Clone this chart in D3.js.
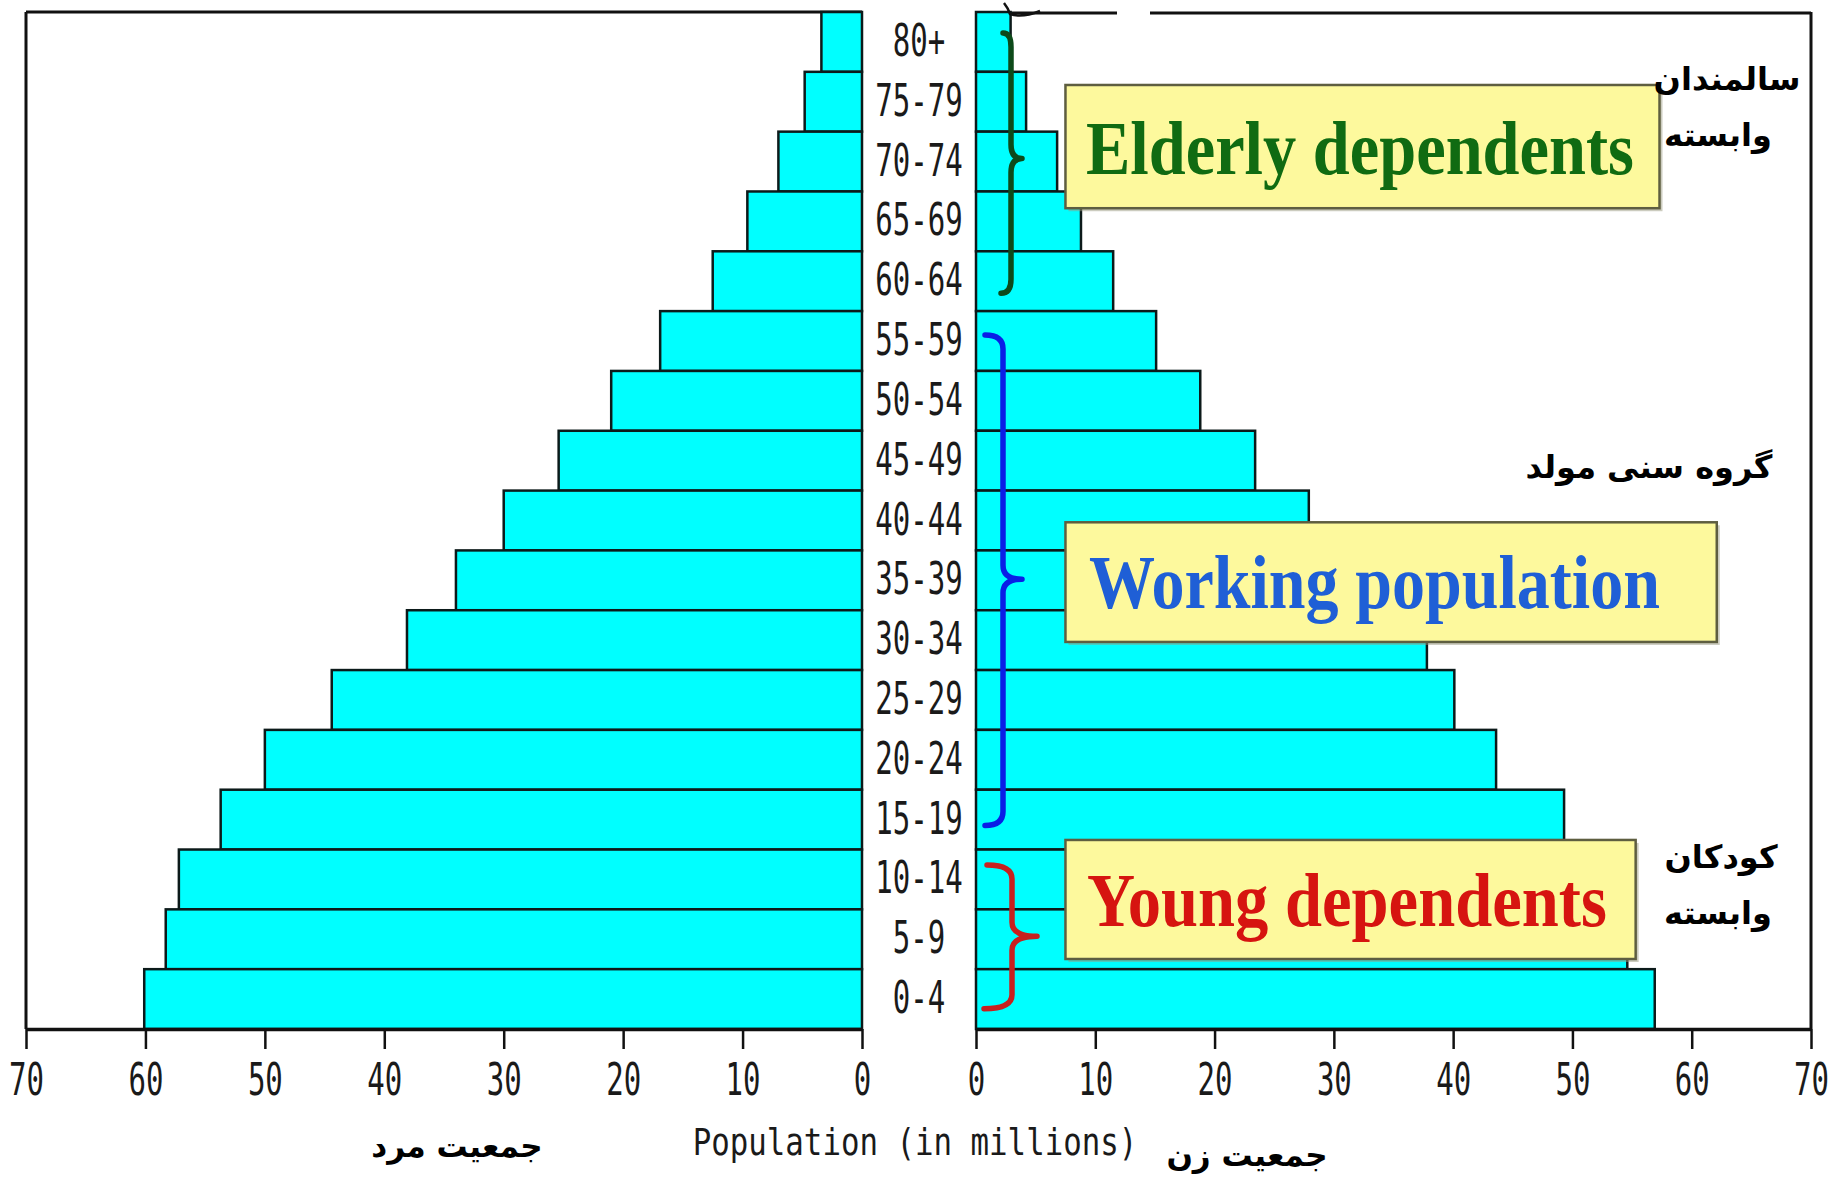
<!DOCTYPE html>
<html>
<head>
<meta charset="utf-8">
<script src="https://cdn.jsdelivr.net/npm/d3@7"></script>
<style>
html,body{margin:0;padding:0;background:#fff;}
svg{display:block;}
</style>
</head>
<body>
<script>
// ---- data ----
const ageGroups = ["80+","75-79","70-74","65-69","60-64","55-59","50-54","45-49","40-44","35-39","30-34","25-29","20-24","15-19","10-14","5-9","0-4"];
const maleValues   = [3.4,4.8,7.0,9.6,12.5,16.9,21.0,25.4,30.0,34.0,38.1,44.4,50.0,53.7,57.2,58.3,60.1];
const femaleValues = [2.9,4.2,6.8,8.8,11.5,15.1,18.8,23.4,27.9,33.0,37.8,40.1,43.6,49.3,52.0,54.6,56.9];
const tickValues = [0,10,20,30,40,50,60,70];
const axisTitle = "Population (in millions)";
const maleLabel = "جمعیت مرد";
const femaleLabel = "جمعیت زن";
const groupBoxes = ["Elderly dependents","Working population","Young dependents"];
const groupColors = ["#106b12","#1f5fd6","#d61410"];
const braceColors = ["#0d4a1a","#0a1ee6","#c8201e"];
const persianNotes = [["سالمندان","وابسته"],["گروه سنی مولد"],["کودکان","وابسته"]];

(function(){
const W = 1845, H = 1189;
const svg = d3.select("body").append("svg").attr("width", W).attr("height", H);

const yTop = 12, yBottom = 1029;
const xL = d3.scaleLinear().domain([0,70]).range([862,26]);
const xR = d3.scaleLinear().domain([0,70]).range([976,1811]);
const y = d3.scaleBand().domain(ageGroups).range([yTop,yBottom]).padding(0);
const bw = y.bandwidth();
const yk = k => yTop + k*bw;

// frame lines
const frame = svg.append("g").attr("stroke","#111").attr("stroke-width",3).attr("fill","none");
frame.append("line").attr("x1",xL(70)).attr("x2",xL(0)).attr("y1",yTop).attr("y2",yTop);
frame.append("line").attr("x1",xL(70)).attr("x2",xL(70)).attr("y1",yTop).attr("y2",yBottom);
frame.append("line").attr("x1",xR(0)).attr("x2",1117).attr("y1",yTop+1).attr("y2",yTop+1);
frame.append("line").attr("x1",1150).attr("x2",xR(70)).attr("y1",yTop+1).attr("y2",yTop+1);
frame.append("line").attr("x1",xR(70)).attr("x2",xR(70)).attr("y1",yTop).attr("y2",yBottom);

// bars
const rows = ageGroups.map((a,i)=>({age:a, m:maleValues[i], f:femaleValues[i]}));
svg.append("g").selectAll("rect").data(rows).join("rect")
  .attr("x", d=>xL(d.m)).attr("y", d=>y(d.age))
  .attr("width", d=>xL(0)-xL(d.m)).attr("height", bw)
  .attr("fill","#00ffff").attr("stroke","#0c1a1a").attr("stroke-width",2.5);
svg.append("g").selectAll("rect").data(rows).join("rect")
  .attr("x", xR(0)).attr("y", d=>y(d.age))
  .attr("width", d=>xR(d.f)-xR(0)).attr("height", bw)
  .attr("fill","#00ffff").attr("stroke","#0c1a1a").attr("stroke-width",2.5);

// age labels
const monoFont = "'DejaVu Sans Mono', monospace";
svg.append("g").selectAll("text").data(ageGroups).join("text")
  .attr("transform", d=>`translate(${(xL(0)+xR(0))/2},${y(d)+bw/2+14}) scale(0.66,1)`)
  .attr("text-anchor","middle").attr("font-family",monoFont).attr("font-size",44)
  .attr("fill","#1a1a1a").text(d=>d);

// axes
function styleAxis(g){
  g.select(".domain").attr("stroke","#111").attr("stroke-width",3.5);
  g.selectAll(".tick line").attr("stroke","#111").attr("stroke-width",2.5);
  g.selectAll(".tick text").attr("font-family",monoFont).attr("font-size",44)
   .attr("fill","#1a1a1a").attr("y",66).attr("dy",0).attr("transform","scale(0.66,1)");
}
svg.append("g").attr("transform",`translate(0,${yBottom})`)
  .call(d3.axisBottom(xL).tickValues(tickValues).tickSize(20).tickSizeOuter(0).tickFormat(d3.format("d")))
  .call(styleAxis);
svg.append("g").attr("transform",`translate(0,${yBottom})`)
  .call(d3.axisBottom(xR).tickValues(tickValues).tickSize(20).tickSizeOuter(0).tickFormat(d3.format("d")))
  .call(styleAxis);

// axis title
svg.append("text").attr("transform",`translate(915,1155) scale(0.81,1)`)
  .attr("text-anchor","middle").attr("font-family",monoFont).attr("font-size",38)
  .attr("fill","#1a1a1a").text(axisTitle);

const faFont = "'DejaVu Sans', sans-serif";
svg.append("text").attr("x",457).attr("y",1157).attr("text-anchor","middle")
  .attr("font-family",faFont).attr("font-weight","bold").attr("font-size",31)
  .attr("direction","rtl").attr("fill","#000").text(maleLabel);
svg.append("text").attr("x",1247).attr("y",1166).attr("text-anchor","middle")
  .attr("font-family",faFont).attr("font-weight","bold").attr("font-size",31)
  .attr("direction","rtl").attr("fill","#000").text(femaleLabel);

// braces
function bracePath(xe1, xs, xt, xe2, y1, ym, y2){
  const r = 14;
  return `M${xe1},${y1} Q${xs},${y1} ${xs},${y1+r} L${xs},${ym-r} Q${xs},${ym} ${xt},${ym}` +
         ` Q${xs},${ym} ${xs},${ym+r} L${xs},${y2-r} Q${xs},${y2} ${xe2},${y2}`;
}
const braces = [
  {k:[0.35,2.45,4.7], x:[1003,1011,1022,1001]},
  {k:[5.4,9.48,13.6], x:[985,1003,1022,985]},
  {k:[14.26,15.45,16.66], x:[987,1012,1037,984]}
];
braces.forEach((b,i)=>{
  svg.append("path").attr("d", bracePath(b.x[0],b.x[1],b.x[2],b.x[3], yk(b.k[0]), yk(b.k[1]), yk(b.k[2])))
    .attr("fill","none").attr("stroke",braceColors[i]).attr("stroke-width",5.5)
    .attr("stroke-linecap","round").attr("stroke-linejoin","round");
});
// small hand-drawn mark at top
svg.append("path").attr("d","M1004,3 Q1008,8 1010,14 Q1022,18 1040,11")
  .attr("fill","none").attr("stroke","#111").attr("stroke-width",2.5);

// annotation boxes
const boxes = [
  {k:[1.22,3.28], x:[7.5,57.3], tx:1086, base:174, len:548},
  {k:[8.53,10.53], x:[7.5,62.1], tx:1089, base:608, len:571},
  {k:[13.84,15.83], x:[7.5,55.3], tx:1087, base:926, len:520}
];
boxes.forEach((b,i)=>{
  const g = svg.append("g");
  g.append("rect").attr("x",xR(b.x[0])+3).attr("y",yk(b.k[0])+3)
    .attr("width",xR(b.x[1])-xR(b.x[0])).attr("height",yk(b.k[1])-yk(b.k[0]))
    .attr("fill","#9a9a80").attr("opacity",0.5);
  g.append("rect").attr("x",xR(b.x[0])).attr("y",yk(b.k[0]))
    .attr("width",xR(b.x[1])-xR(b.x[0])).attr("height",yk(b.k[1])-yk(b.k[0]))
    .attr("fill","#fdf99d").attr("stroke","#5e5e40").attr("stroke-width",2.5);
  const t = g.append("text").attr("x",0).attr("y",0)
    .attr("font-family","'Liberation Serif','Times New Roman',serif").attr("font-weight","bold")
    .attr("font-size",77).attr("fill",groupColors[i]).text(groupBoxes[i]);
  const natural = t.node().getComputedTextLength() || b.len;
  t.attr("transform",`translate(${b.tx},${b.base}) scale(${b.len/natural},1)`);
});

// persian side notes
const notePos = [
  [{x:1727,y:90},{x:1718,y:146}],
  [{x:1649,y:478}],
  [{x:1721,y:868},{x:1718,y:924}]
];
persianNotes.forEach((lines,i)=>{
  lines.forEach((s,j)=>{
    svg.append("text").attr("x",notePos[i][j].x).attr("y",notePos[i][j].y)
      .attr("text-anchor","middle").attr("direction","rtl")
      .attr("font-family",faFont).attr("font-weight","bold").attr("font-size",32)
      .attr("fill","#000").text(s);
  });
});
})();
</script>
</body>
</html>
